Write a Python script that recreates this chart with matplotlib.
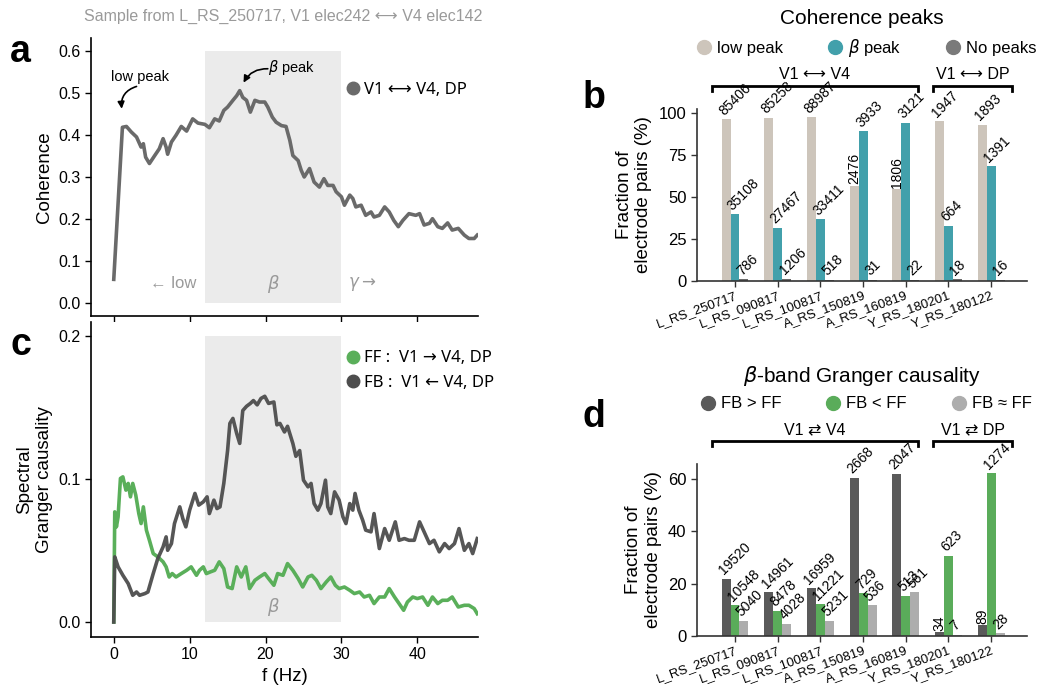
import matplotlib.pyplot as plt
import matplotlib.transforms as mtransforms
from matplotlib.lines import Line2D
import numpy as np

plt.rcParams['font.family'] = ['Liberation Sans', 'DejaVu Sans']
plt.rcParams['mathtext.fontset'] = 'dejavusans'

# ---- panel a: sample coherence spectrum
coh_f = [0.0, 1.14, 1.67, 2.3, 3.0, 3.6, 3.9, 4.2, 4.7, 5.4, 6.0, 6.5, 6.9, 7.1, 7.6, 8.2, 8.9,
         9.6, 10.4, 11.1, 12.0, 12.6, 13.3, 13.9, 14.5, 15.0, 15.7, 16.2, 16.6, 17.0, 17.5, 18.0,
         18.6, 19.2, 19.9, 20.3, 20.9, 21.4, 22.1, 22.7, 23.2, 23.6, 24.3, 24.7, 25.1, 25.8, 26.4,
         27.1, 27.7, 28.2, 28.9, 29.3, 30.0, 30.4, 31.1, 31.5, 31.9, 32.6, 33.2, 33.9, 34.3, 35.0,
         35.7, 36.3, 36.9, 37.5, 38.1, 38.9, 39.8, 40.3, 40.9, 41.6, 42.0, 42.7, 43.3, 44.0, 44.6,
         45.4, 46.2, 46.8, 47.5, 47.9]
coh_v = [0.057, 0.418, 0.420, 0.407, 0.395, 0.371, 0.379, 0.347, 0.332, 0.351, 0.367, 0.391,
         0.371, 0.354, 0.383, 0.399, 0.420, 0.409, 0.438, 0.428, 0.425, 0.417, 0.438, 0.433, 0.458,
         0.466, 0.482, 0.493, 0.505, 0.489, 0.482, 0.454, 0.482, 0.478, 0.478, 0.466, 0.442, 0.430,
         0.422, 0.420, 0.387, 0.351, 0.339, 0.316, 0.300, 0.320, 0.288, 0.276, 0.296, 0.280, 0.280,
         0.265, 0.253, 0.233, 0.257, 0.249, 0.229, 0.233, 0.209, 0.217, 0.205, 0.209, 0.229, 0.217,
         0.197, 0.182, 0.197, 0.213, 0.209, 0.213, 0.186, 0.190, 0.201, 0.182, 0.178, 0.191, 0.174,
         0.178, 0.162, 0.154, 0.154, 0.162]

# ---- panel c: spectral Granger causality
fb_f = [0.0, 0.13, 0.57, 1.2, 1.9, 2.5, 3.0, 3.4, 4.1, 4.5, 5.2, 5.8, 6.5, 6.9, 7.1, 7.6, 8.0,
        8.7, 9.1, 9.5, 10.0, 10.7, 11.2, 11.8, 12.3, 12.6, 13.2, 13.6, 14.0, 14.5, 15.0, 15.3,
        15.7, 16.2, 16.6, 17.0, 17.5, 18.0, 18.4, 18.9, 19.4, 19.9, 20.4, 21.1, 21.5, 21.9, 22.5,
        22.9, 23.6, 24.0, 24.5, 25.0, 25.6, 26.0, 26.4, 26.9, 27.3, 27.9, 28.2, 28.6, 29.1, 29.7,
        30.2, 30.6, 31.1, 31.5, 31.8, 32.3, 32.8, 33.2, 33.9, 34.3, 35.0, 35.7, 36.3, 37.1, 37.6,
        38.3, 38.9, 39.6, 40.3, 40.9, 41.6, 42.2, 42.9, 43.6, 44.2, 44.9, 45.5, 46.2, 46.8, 47.3,
        47.9]
fb_v = [0.0, 0.0456, 0.0386, 0.0327, 0.0269, 0.0187, 0.0210, 0.0187, 0.0199, 0.0210, 0.0339,
        0.0444, 0.0526, 0.0596, 0.0502, 0.0549, 0.0689, 0.0806, 0.0724, 0.0666, 0.0783, 0.0900,
        0.0818, 0.0841, 0.0876, 0.0759, 0.0853, 0.0794, 0.0806, 0.0970, 0.1200, 0.1390, 0.1425,
        0.1320, 0.1250, 0.1480, 0.1510, 0.1530, 0.1550, 0.1520, 0.1565, 0.1580, 0.1530, 0.1540,
        0.1380, 0.1390, 0.1330, 0.1370, 0.1250, 0.1160, 0.1200, 0.0993, 0.0946, 0.0970, 0.0829,
        0.0783, 0.0829, 0.0993, 0.0806, 0.0759, 0.0911, 0.0853, 0.0736, 0.0689, 0.0829, 0.0783,
        0.0900, 0.0783, 0.0713, 0.0643, 0.0631, 0.0759, 0.0514, 0.0654, 0.0572, 0.0701, 0.0572,
        0.0584, 0.0572, 0.0572, 0.0701, 0.0631, 0.0549, 0.0572, 0.0491, 0.0549, 0.0514, 0.0549,
        0.0654, 0.0502, 0.0549, 0.0479, 0.0584]
ff_f = [0.0, 0.13, 0.35, 0.57, 0.88, 1.2, 1.6, 1.9, 2.2, 2.5, 2.9, 3.3, 3.6, 3.9, 4.3, 4.7, 5.2,
        5.8, 6.5, 6.9, 7.3, 7.7, 8.2, 8.9, 9.6, 10.2, 10.9, 11.3, 11.8, 12.2, 12.7, 13.3, 13.9,
        14.5, 15.0, 15.6, 16.2, 16.8, 17.4, 17.9, 18.6, 19.2, 19.9, 20.4, 21.1, 21.6, 22.3, 22.9,
        23.6, 24.3, 24.9, 25.6, 26.1, 26.7, 27.3, 28.0, 28.6, 29.2, 29.7, 30.4, 31.1, 31.7, 32.4,
        33.0, 33.7, 34.3, 35.0, 35.7, 36.3, 37.0, 37.6, 38.2, 38.7, 39.4, 40.0, 40.7, 41.4, 42.0,
        42.7, 43.3, 44.0, 44.6, 45.4, 46.2, 46.8, 47.5, 47.9]
ff_v = [0.0, 0.0771, 0.0666, 0.0736, 0.1005, 0.1016, 0.0923, 0.0970, 0.0876, 0.0970, 0.0888,
        0.0759, 0.0689, 0.0806, 0.0643, 0.0572, 0.0479, 0.0456, 0.0421, 0.0386, 0.0315, 0.0339,
        0.0315, 0.0339, 0.0362, 0.0386, 0.0327, 0.0362, 0.0386, 0.0339, 0.0350, 0.0362, 0.0421,
        0.0374, 0.0245, 0.0234, 0.0386, 0.0315, 0.0386, 0.0234, 0.0292, 0.0315, 0.0339, 0.0304,
        0.0257, 0.0339, 0.0327, 0.0409, 0.0362, 0.0304, 0.0245, 0.0315, 0.0327, 0.0292, 0.0234,
        0.0280, 0.0315, 0.0257, 0.0234, 0.0245, 0.0222, 0.0199, 0.0210, 0.0175, 0.0187, 0.0129,
        0.0175, 0.0175, 0.0234, 0.0175, 0.0129, 0.0082, 0.0140, 0.0175, 0.0164, 0.0175, 0.0117,
        0.0175, 0.0129, 0.0152, 0.0152, 0.0175, 0.0105, 0.0117, 0.0117, 0.0094, 0.0058]

beta_band = [12, 30]

# ---- panels b & d: sessions
sessions = ['L_RS_250717', 'L_RS_090817', 'L_RS_100817', 'A_RS_150819',
            'A_RS_160819', 'Y_RS_180201', 'Y_RS_180122']

low_pct = [96.2, 97.0, 97.4, 56.6, 54.7, 95.0, 92.9]
beta_pct = [39.6, 31.7, 36.8, 89.1, 93.9, 32.7, 68.3]
none_pct = [0.9, 1.4, 0.6, 0.7, 0.6, 0.9, 0.8]
low_n = [85406, 85258, 88987, 2476, 1806, 1947, 1893]
beta_n = [35108, 27467, 33411, 3933, 3121, 664, 1391]
none_n = [786, 1206, 518, 31, 22, 18, 16]

fbgt_pct = [21.8, 16.8, 18.3, 60.4, 61.9, 1.5, 4.2]
fblt_pct = [11.8, 9.7, 12.2, 16.4, 15.3, 30.6, 62.2]
fbeq_pct = [5.9, 4.6, 5.9, 11.8, 16.8, 0.4, 1.1]
fbgt_n = [19520, 14961, 16959, 2668, 2047, 34, 89]
fblt_n = [10548, 8478, 11221, 729, 513, 623, 1274]
fbeq_n = [5040, 4028, 5231, 536, 561, 7, 28]

W, H = 1037, 686
fig = plt.figure(figsize=(W / 100, H / 100), dpi=100)


def px_axes(left, top, right, bottom):
    return fig.add_axes([left / W, 1 - bottom / H, (right - left) / W, (bottom - top) / H])


def fpos(x, y):
    return x / W, 1 - y / H


gray_txt = '#9a9a9a'
band_col = '#ebebeb'
leg_font = {'family': ['Noto Sans', 'DejaVu Sans'], 'size': 12}
arrow_kw = dict(arrowstyle='-|>', color='k', lw=1.2, mutation_scale=10, shrinkA=0, shrinkB=0)

# ================= panel a
ax_a = px_axes(91, 38, 478, 316)
ax_a.fill_between(beta_band, 0, 0.6, color=band_col, lw=0, zorder=0)
ax_a.plot(coh_f, coh_v, color='#6a6a6a', lw=2.6, solid_joinstyle='round')
ax_a.set_xlim(-3, 48)
ax_a.set_ylim(-0.03, 0.63)
ax_a.set_yticks(np.arange(0, 0.61, 0.1))
ax_a.set_xticks([0, 10, 20, 30, 40])
ax_a.tick_params(labelbottom=False)
ax_a.set_ylabel('Coherence', fontsize=13.5)
ax_a.yaxis.set_label_coords(-0.098, 0.5)
ax_a.legend([Line2D([], [], ls='', marker='o', color='#6a6a6a', markersize=9)],
            ['V1 \u27f7 V4, DP'], prop=leg_font, frameon=False, loc='center left',
            bbox_to_anchor=(0.659, 0.813), borderpad=0, borderaxespad=0,
            handlelength=0.8, handletextpad=0.3)
ax_a.text(7.8, 0.047, '\u2190 low', color=gray_txt, fontsize=12, ha='center', va='center')
ax_a.text(21, 0.047, r'$\beta$', color=gray_txt, fontsize=13, ha='center', va='center')
ax_a.text(32.7, 0.047, r'$\gamma \rightarrow$', color=gray_txt, fontsize=12, ha='center', va='center')
ax_a.text(3.4, 0.538, 'low peak', fontsize=10.5, ha='center', va='center')
ax_a.annotate('', xy=(1.05, 0.462), xytext=(3.0, 0.515),
              arrowprops=dict(connectionstyle='arc3,rad=0.4', **arrow_kw))
ax_a.text(23.4, 0.56, r'$\beta$ peak', fontsize=10.5, ha='center', va='center')
ax_a.annotate('', xy=(17.1, 0.524), xytext=(20.3, 0.557),
              arrowprops=dict(connectionstyle='arc3,rad=0.3', **arrow_kw))

# ================= panel c
ax_c = px_axes(91, 322, 478, 637)
ax_c.fill_between(beta_band, 0, 0.2, color=band_col, lw=0, zorder=0)
ax_c.plot(ff_f, ff_v, color='#5aaf5a', lw=2.6, solid_joinstyle='round')
ax_c.plot(fb_f, fb_v, color='#4d4d4d', lw=2.6, solid_joinstyle='round', alpha=0.95)
ax_c.set_xlim(-3, 48)
ax_c.set_ylim(-0.0105, 0.21)
ax_c.set_yticks([0.0, 0.1, 0.2])
ax_c.set_xticks([0, 10, 20, 30, 40])
ax_c.set_xlabel('f (Hz)', fontsize=13.5)
ax_c.set_ylabel('Spectral\nGranger causality', fontsize=13.5)
ax_c.yaxis.set_label_coords(-0.098, 0.5)
ax_c.legend([Line2D([], [], ls='', marker='o', color='#5aaf5a', markersize=9),
             Line2D([], [], ls='', marker='o', color='#4d4d4d', markersize=9)],
            ['FF :  V1 \u2192 V4, DP', 'FB :  V1 \u2190 V4, DP'], prop=leg_font,
            frameon=False, loc='center left', bbox_to_anchor=(0.659, 0.846),
            borderpad=0, borderaxespad=0, handlelength=0.8, handletextpad=0.3,
            labelspacing=0.5)
ax_c.text(21, 0.0103, r'$\beta$', color=gray_txt, fontsize=13, ha='center', va='center')

for ax in (ax_a, ax_c):
    for s in ('top', 'right'):
        ax.spines[s].set_visible(False)
    for s in ('left', 'bottom'):
        ax.spines[s].set_linewidth(1.2)
    ax.tick_params(labelsize=11.5, length=4, width=1)


# ================= bar panels
def bar_panel(ax, pcts, counts, colors, ymax, yticks, brackets):
    x = np.arange(len(sessions))
    w = 0.21
    for k, (p, n, c) in enumerate(zip(pcts, counts, colors)):
        xs = x + (k - 1) * w
        ax.bar(xs, p, width=w, color=c, lw=0)
        for i in range(len(sessions)):
            upright = k == 0 and pcts[0][i] < pcts[1][i]
            if upright:
                ax.annotate(str(n[i]), (xs[i], p[i]), xytext=(0, 1), textcoords='offset points',
                            rotation=90, ha='left', va='center', rotation_mode='anchor',
                            fontsize=10)
            else:
                ax.annotate(str(n[i]), (xs[i], p[i]), xytext=(0, 1), textcoords='offset points',
                            rotation=45, ha='left', va='bottom', rotation_mode='anchor',
                            fontsize=10)
    ax.set_xlim(-0.89, 6.84)
    ax.set_ylim(0, ymax)
    ax.set_yticks(yticks)
    ax.set_xticks(x)
    ax.set_xticklabels(sessions, rotation=20, ha='right', rotation_mode='anchor', fontsize=9.5)
    for s in ('top', 'right'):
        ax.spines[s].set_visible(False)
    for s in ('left', 'bottom'):
        ax.spines[s].set_linewidth(1.2)
        ax.spines[s].set_color('#333333')
    ax.tick_params(axis='y', labelsize=12, length=4, width=1, color='#333333')
    ax.tick_params(axis='x', length=4, width=1, pad=2, color='#333333')
    ax.set_ylabel('Fraction of\nelectrode pairs (%)', fontsize=13.5)
    tr = mtransforms.blended_transform_factory(ax.transData, ax.transAxes)
    for x0, x1, label in brackets:
        ax.plot([x0, x0, x1, x1], [1.105, 1.134, 1.134, 1.105], color='k', lw=2,
                transform=tr, clip_on=False, solid_joinstyle='miter')
        ax.text((x0 + x1) / 2, 1.198, label, transform=tr, ha='center', va='center',
                fontsize=11.5)


ax_b = px_axes(697, 109, 1027, 281)
bar_panel(ax_b, [low_pct, beta_pct, none_pct], [low_n, beta_n, none_n],
          ['#cdc5bb', '#42a0ab', '#6b6b6b'], 102.2, [0, 25, 50, 75, 100],
          [(-0.54, 4.29, 'V1 \u27f7 V4'), (4.64, 6.49, 'V1 \u27f7 DP')])
ax_b.yaxis.set_label_coords(-0.136, 0.5)

ax_d = px_axes(697, 464, 1027, 636)
bar_panel(ax_d, [fbgt_pct, fblt_pct, fbeq_pct], [fbgt_n, fblt_n, fbeq_n],
          ['#5a5a5a', '#5aac5a', '#adadad'], 65.7, [0, 20, 40, 60],
          [(-0.54, 4.29, 'V1 \u21c4 V4'), (4.64, 6.49, 'V1 \u21c4 DP')])
ax_d.yaxis.set_label_coords(-0.106, 0.5)

fig.text(*fpos(862, 19), 'Coherence peaks', fontsize=15, ha='center', va='center')
fig.text(*fpos(862, 376), r'$\beta$-band Granger causality', fontsize=15, ha='center', va='center')

fig.legend([Line2D([], [], ls='', marker='o', color=c, markersize=10)
            for c in ['#cdc5bb', '#42a0ab', '#7a7a7a']],
           ['low peak', r'$\beta$ peak', 'No peaks'], ncol=3, frameon=False, fontsize=12,
           loc='center left', bbox_to_anchor=fpos(697, 47.7), borderpad=0, borderaxespad=0,
           handlelength=0.8, handletextpad=0.4, columnspacing=2.7)
fig.legend([Line2D([], [], ls='', marker='o', color=c, markersize=10)
            for c in ['#5a5a5a', '#5aac5a', '#adadad']],
           ['FB > FF', 'FB < FF', 'FB \u2248 FF'], ncol=3, frameon=False, fontsize=12,
           loc='center left', bbox_to_anchor=fpos(701, 404), borderpad=0, borderaxespad=0,
           handlelength=0.8, handletextpad=0.4, columnspacing=2.7)

fig.text(*fpos(283, 16), 'Sample from L_RS_250717, V1 elec242 \u27f7 V4 elec142',
         fontsize=11.5, color=gray_txt, ha='center', va='center')

for lx, ly, letter in [(10, 62, 'a'), (583, 108, 'b'), (10, 355, 'c'), (582, 427, 'd')]:
    fig.text(*fpos(lx, ly), letter, fontsize=27, fontweight='bold', ha='left', va='baseline')

fig.savefig('out.png', dpi=100)
